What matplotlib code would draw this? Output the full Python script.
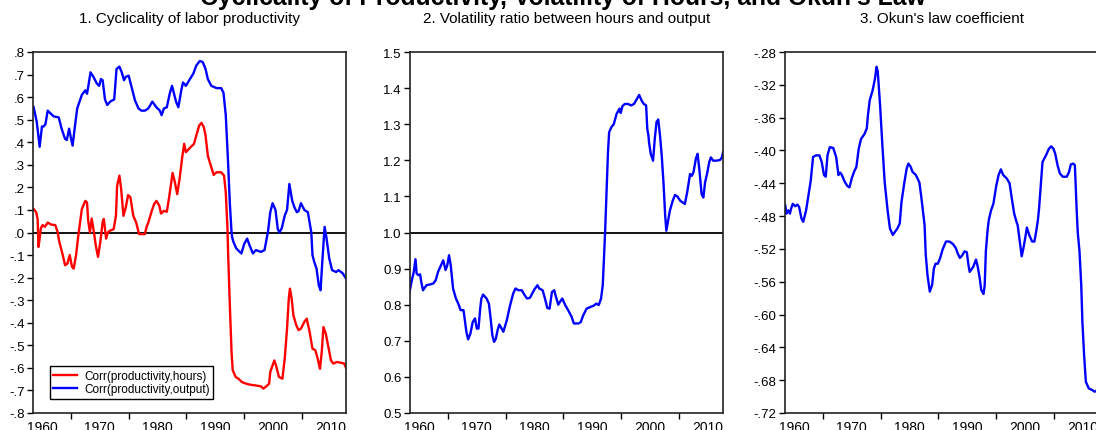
import matplotlib
matplotlib.use("Agg")
import matplotlib.pyplot as plt
from matplotlib.ticker import FixedLocator

plt.rcParams['font.family'] = ['Liberation Sans', 'DejaVu Sans']

# ---- panel 1: cyclicality of labor productivity ----
hours_year = [1958.56, 1959.0, 1959.25, 1959.4, 1959.6, 1959.8, 1960.1, 1960.5, 1961.0,
              1961.6, 1962.3, 1962.7, 1963.0, 1963.6, 1964.0, 1964.4, 1964.8, 1965.2,
              1965.5, 1965.9, 1966.3, 1966.9, 1967.5, 1967.8, 1968.0, 1968.3, 1968.6,
              1968.9, 1969.0, 1969.3, 1969.7, 1970.1, 1970.5, 1970.7, 1971.1, 1971.4,
              1971.7, 1972.4, 1972.8, 1973.0, 1973.4, 1973.7, 1974.1, 1974.5, 1974.9,
              1975.3, 1975.8, 1976.3, 1976.8, 1977.3, 1977.8, 1978.1, 1978.4, 1979.0,
              1979.4, 1979.8, 1980.3, 1980.6, 1981.1, 1981.6, 1982.0, 1982.6, 1983.0,
              1983.4, 1983.8, 1984.3, 1984.6, 1984.9, 1985.4, 1986.0, 1986.3, 1986.7,
              1987.2, 1987.6, 1988.0, 1988.3, 1988.7, 1989.3, 1989.7, 1990.2, 1991.0,
              1991.5, 1991.8, 1992.1, 1992.2, 1992.5, 1992.8, 1993.0, 1993.5, 1994.0,
              1994.6, 1995.3, 1996.1, 1997.0, 1997.9, 1998.3, 1998.8, 1999.3, 1999.5,
              1999.8, 2000.2, 2000.5, 2001.0, 2001.6, 2002.0, 2002.4, 2002.7, 2002.9,
              2003.2, 2003.5, 2004.0, 2004.4, 2004.8, 2005.4, 2005.8, 2006.3, 2006.8,
              2007.3, 2007.7, 2008.1, 2008.4, 2008.7, 2009.1, 2009.6, 2010.0, 2010.4,
              2011.0, 2011.7, 2012.3, 2012.6]
hours_corr = [0.104, 0.09, 0.06, -0.064, -0.027, 0.018, 0.033, 0.025, 0.044,
              0.035, 0.033, 0.003, -0.041, -0.10, -0.145, -0.138, -0.10, -0.152,
              -0.16, -0.10, -0.012, 0.104, 0.14, 0.133, 0.052, 0.0, 0.062,
              0.015, 0.0, -0.056, -0.108, -0.041, 0.047, 0.06, -0.027, 0.0,
              0.007, 0.015, 0.074, 0.207, 0.252, 0.193, 0.074, 0.111, 0.166,
              0.156, 0.074, 0.044, -0.007, -0.007, -0.007, 0.025, 0.044, 0.096,
              0.126, 0.14, 0.119, 0.084, 0.096, 0.092, 0.156, 0.264, 0.222,
              0.17, 0.237, 0.34, 0.393, 0.356, 0.37, 0.385, 0.393, 0.43,
              0.474, 0.486, 0.467, 0.43, 0.34, 0.289, 0.255, 0.267, 0.267,
              0.252, 0.178, 0.015, -0.086, -0.32, -0.53, -0.61, -0.64, -0.648,
              -0.663, -0.67, -0.675, -0.678, -0.682, -0.692, -0.682, -0.67, -0.618,
              -0.596, -0.567, -0.59, -0.64, -0.648, -0.559, -0.426, -0.293, -0.249,
              -0.293, -0.367, -0.411, -0.433, -0.426, -0.396, -0.382, -0.44, -0.515,
              -0.522, -0.559, -0.604, -0.53, -0.419, -0.448, -0.515, -0.567, -0.581,
              -0.574, -0.577, -0.581, -0.60]

output_year = [1958.56, 1959.1, 1959.6, 1960.0, 1960.3, 1960.6, 1961.0, 1961.4, 1962.0,
               1962.9, 1963.4, 1964.0, 1964.3, 1964.7, 1965.0, 1965.3, 1965.7, 1966.1,
               1966.9, 1967.5, 1967.8, 1968.0, 1968.4, 1968.9, 1969.5, 1969.9, 1970.2,
               1970.5, 1970.9, 1971.3, 1971.8, 1972.5, 1972.9, 1973.4, 1973.8, 1974.2,
               1974.5, 1975.0, 1975.5, 1976.1, 1976.7, 1977.2, 1977.8, 1978.4, 1979.1,
               1979.8, 1980.4, 1980.7, 1981.1, 1981.6, 1982.1, 1982.5, 1982.8, 1983.2,
               1983.6, 1984.1, 1984.4, 1984.9, 1985.6, 1986.2, 1986.7, 1987.3, 1987.8,
               1988.3, 1988.7, 1989.3, 1990.2, 1991.0, 1991.4, 1991.8, 1992.2, 1992.5,
               1992.8, 1992.9, 1993.1, 1993.6, 1994.5, 1995.0, 1995.5, 1995.9, 1996.5,
               1997.0, 1997.9, 1998.5, 1999.1, 1999.5, 1999.9, 2000.4, 2000.8, 2001.1,
               2001.5, 2002.0, 2002.4, 2002.8, 2003.3, 2003.7, 2004.1, 2004.4, 2004.8,
               2005.4, 2006.0, 2006.6, 2006.8, 2007.1, 2007.5, 2007.9, 2008.2, 2008.5,
               2008.9, 2009.2, 2009.7, 2010.2, 2010.9, 2011.3, 2012.0, 2012.6]
output_corr = [0.556, 0.49, 0.38, 0.47, 0.47, 0.48, 0.54, 0.53, 0.515,
               0.51, 0.46, 0.415, 0.41, 0.46, 0.42, 0.385, 0.47, 0.55,
               0.61, 0.63, 0.615, 0.645, 0.71, 0.69, 0.66, 0.65, 0.68,
               0.675, 0.59, 0.565, 0.58, 0.59, 0.725, 0.735, 0.71, 0.675,
               0.69, 0.695, 0.645, 0.585, 0.55, 0.54, 0.54, 0.55, 0.58,
               0.555, 0.54, 0.52, 0.55, 0.555, 0.615, 0.65, 0.62, 0.58,
               0.555, 0.63, 0.665, 0.65, 0.68, 0.705, 0.74, 0.76, 0.756,
               0.725, 0.68, 0.65, 0.64, 0.64, 0.62, 0.52, 0.31, 0.13,
               0.0, -0.02, -0.04, -0.07, -0.093, -0.05, -0.027, -0.056, -0.093,
               -0.078, -0.086, -0.078, 0.003, 0.09, 0.13, 0.10, 0.015, 0.0,
               0.02, 0.075, 0.10, 0.215, 0.14, 0.11, 0.09, 0.095, 0.13,
               0.10, 0.09, 0.0, -0.10, -0.13, -0.16, -0.235, -0.256, -0.13,
               0.025, -0.02, -0.115, -0.167, -0.175, -0.167, -0.18, -0.204]

# ---- panel 2: volatility ratio between hours and output ----
vol_year = [1958.4, 1958.7, 1959.1, 1959.4, 1959.6, 1959.9, 1960.2, 1960.4, 1960.7,
            1961.3, 1961.9, 1962.5, 1962.9, 1963.3, 1963.9, 1964.2, 1964.6, 1964.9,
            1965.2, 1965.5, 1965.9, 1966.4, 1966.8, 1967.2, 1967.7, 1967.9, 1968.2,
            1968.5, 1968.9, 1969.3, 1969.7, 1970.0, 1970.3, 1970.6, 1970.8, 1971.1,
            1971.7, 1972.1, 1972.4, 1972.7, 1973.0, 1973.3, 1973.6, 1973.9, 1974.3,
            1974.6, 1975.2, 1975.7, 1976.3, 1976.7, 1977.2, 1977.8, 1978.3, 1978.7,
            1979.2, 1979.6, 1980.0, 1980.5, 1980.8, 1981.4, 1981.8, 1982.2, 1982.6,
            1983.0, 1983.4, 1983.7, 1984.1, 1984.4, 1984.8, 1985.3, 1985.8, 1986.4,
            1986.8, 1987.6, 1988.0, 1988.4, 1989.0, 1989.7, 1990.2, 1990.7, 1991.1,
            1991.5, 1991.8, 1992.0, 1992.2, 1992.5, 1992.7, 1992.9, 1993.3, 1993.7,
            1994.2, 1994.7, 1994.9, 1995.2, 1995.6, 1996.2, 1996.7, 1997.2, 1997.7,
            1998.1, 1998.5, 1998.9, 1999.3, 1999.5, 1999.7, 1999.8, 2000.1, 2000.5,
            2000.8, 2001.1, 2001.4, 2001.7, 2002.0, 2002.3, 2002.6, 2002.8, 2003.1,
            2003.4, 2003.9, 2004.3, 2004.7, 2005.2, 2006.0, 2006.4, 2006.9, 2007.2,
            2007.5, 2007.9, 2008.2, 2008.5, 2008.9, 2009.2, 2009.5, 2009.9, 2010.2,
            2010.5, 2010.9, 2011.5, 2012.1, 2012.4, 2012.6]
vol_ratio = [0.837, 0.863, 0.891, 0.926, 0.886, 0.882, 0.884, 0.863, 0.84,
             0.854, 0.856, 0.859, 0.868, 0.891, 0.912, 0.923, 0.896, 0.909,
             0.937, 0.909, 0.845, 0.817, 0.803, 0.785, 0.785, 0.762, 0.725,
             0.704, 0.72, 0.752, 0.762, 0.734, 0.734, 0.79, 0.817, 0.828,
             0.817, 0.803, 0.762, 0.715, 0.697, 0.706, 0.729, 0.745, 0.734,
             0.725, 0.757, 0.794, 0.831, 0.845, 0.84, 0.84, 0.826, 0.817,
             0.819, 0.831, 0.843, 0.854, 0.845, 0.84, 0.817, 0.791, 0.789,
             0.835, 0.84, 0.822, 0.80, 0.808, 0.817, 0.799, 0.785, 0.767,
             0.748, 0.748, 0.752, 0.77, 0.789, 0.794, 0.797, 0.803, 0.799,
             0.817, 0.854, 0.928, 1.0, 1.13, 1.222, 1.278, 1.292, 1.30,
             1.329, 1.343, 1.331, 1.35, 1.356, 1.356, 1.352, 1.356, 1.37,
             1.381, 1.366, 1.356, 1.352, 1.287, 1.269, 1.25, 1.218, 1.199,
             1.26, 1.306, 1.313, 1.269, 1.213, 1.139, 1.046, 1.005, 1.032,
             1.06, 1.088, 1.104, 1.10, 1.088, 1.079, 1.111, 1.162, 1.157,
             1.167, 1.204, 1.218, 1.176, 1.106, 1.097, 1.139, 1.167, 1.194,
             1.208, 1.199, 1.199, 1.201, 1.208, 1.222]

# ---- panel 3: Okun's law coefficient ----
okun_year = [1958.5, 1958.7, 1959.0, 1959.3, 1959.5, 1959.8, 1960.2, 1960.6, 1960.9,
             1961.3, 1961.6, 1962.1, 1962.5, 1962.9, 1963.3, 1963.8, 1964.4, 1964.8,
             1965.2, 1965.5, 1965.8, 1966.2, 1966.8, 1967.3, 1967.7, 1968.0, 1968.3,
             1968.7, 1969.2, 1969.6, 1970.0, 1970.4, 1970.8, 1971.2, 1971.6, 1972.2,
             1972.6, 1972.8, 1973.1, 1973.6, 1974.0, 1974.3, 1974.5, 1974.9, 1975.3,
             1975.7, 1976.2, 1976.6, 1977.1, 1977.5, 1977.9, 1978.3, 1978.6, 1979.1,
             1979.5, 1979.8, 1980.2, 1980.5, 1981.1, 1981.7, 1982.0, 1982.4, 1982.6,
             1982.8, 1983.1, 1983.5, 1983.9, 1984.2, 1984.5, 1984.9, 1985.3, 1985.7,
             1986.3, 1986.9, 1987.5, 1988.0, 1988.3, 1988.7, 1989.1, 1989.5, 1989.9,
             1990.2, 1990.4, 1991.0, 1991.5, 1991.8, 1992.1, 1992.4, 1992.8, 1993.0,
             1993.2, 1993.5, 1993.7, 1994.1, 1994.5, 1995.0, 1995.4, 1995.8, 1996.2,
             1996.8, 1997.3, 1997.7, 1998.1, 1998.5, 1998.7, 1999.0, 1999.4, 1999.7,
             2000.0, 2000.3, 2000.7, 2001.2, 2001.6, 2001.9, 2002.2, 2002.4, 2002.7,
             2003.0, 2003.6, 2004.1, 2004.5, 2004.9, 2005.2, 2005.6, 2006.0, 2006.5,
             2007.2, 2007.6, 2007.9, 2008.3, 2008.6, 2008.9, 2009.1, 2009.4, 2009.7,
             2009.9, 2010.2, 2010.5, 2011.0, 2011.6, 2012.0, 2012.6]
okun_coef = [-0.467, -0.477, -0.473, -0.477, -0.471, -0.465, -0.468, -0.466, -0.469,
             -0.483, -0.487, -0.473, -0.455, -0.437, -0.408, -0.406, -0.406, -0.414,
             -0.43, -0.432, -0.406, -0.396, -0.397, -0.408, -0.43, -0.427, -0.43,
             -0.437, -0.443, -0.445, -0.434, -0.426, -0.42, -0.398, -0.386, -0.38,
             -0.373, -0.357, -0.339, -0.327, -0.313, -0.298, -0.304, -0.345, -0.394,
             -0.439, -0.473, -0.495, -0.503, -0.499, -0.495, -0.489, -0.463, -0.439,
             -0.422, -0.416, -0.42, -0.426, -0.43, -0.439, -0.455, -0.479, -0.491,
             -0.527, -0.552, -0.572, -0.564, -0.544, -0.538, -0.538, -0.531, -0.521,
             -0.511, -0.511, -0.514, -0.519, -0.525, -0.531, -0.528, -0.523, -0.524,
             -0.54, -0.548, -0.542, -0.533, -0.542, -0.554, -0.57, -0.575, -0.564,
             -0.523, -0.497, -0.485, -0.473, -0.465, -0.443, -0.43, -0.423, -0.43,
             -0.434, -0.44, -0.459, -0.477, -0.487, -0.491, -0.507, -0.529, -0.519,
             -0.507, -0.494, -0.503, -0.511, -0.511, -0.499, -0.485, -0.471, -0.443,
             -0.414, -0.406, -0.398, -0.395, -0.398, -0.404, -0.418, -0.428, -0.432,
             -0.432, -0.426, -0.417, -0.416, -0.418, -0.471, -0.50, -0.523, -0.564,
             -0.609, -0.65, -0.682, -0.69, -0.692, -0.694, -0.692]

decades = [1960, 1970, 1980, 1990, 2000, 2010]
half_decades = [1965, 1975, 1985, 1995, 2005]

p1_ticks = [0.8, 0.7, 0.6, 0.5, 0.4, 0.3, 0.2, 0.1, 0.0, -0.1, -0.2, -0.3, -0.4,
            -0.5, -0.6, -0.7, -0.8]
p1_labels = ['.8', '.7', '.6', '.5', '.4', '.3', '.2', '.1', '.0', '-.1', '-.2', '-.3',
             '-.4', '-.5', '-.6', '-.7', '-.8']
p2_ticks = [1.5, 1.4, 1.3, 1.2, 1.1, 1.0, 0.9, 0.8, 0.7, 0.6, 0.5]
p2_labels = ['1.5', '1.4', '1.3', '1.2', '1.1', '1.0', '0.9', '0.8', '0.7', '0.6', '0.5']
p3_ticks = [-0.28, -0.32, -0.36, -0.40, -0.44, -0.48, -0.52, -0.56, -0.60, -0.64,
            -0.68, -0.72]
p3_labels = ['-.28', '-.32', '-.36', '-.40', '-.44', '-.48', '-.52', '-.56', '-.60',
             '-.64', '-.68', '-.72']

W, H = 1096, 431
fig = plt.figure(figsize=(W / 100, H / 100), dpi=100)


def make_axes(x0, x1, y0=53, y1=414):
    return fig.add_axes([x0 / W, (H - y1) / H, (x1 - x0) / W, (y1 - y0) / H])


def style(ax, ticks, labels, ylim, title):
    ax.set_xlim(1958.45, 2012.6)
    ax.set_ylim(*ylim)
    ax.set_yticks(ticks)
    ax.set_yticklabels(labels)
    ax.set_xticks(decades)
    ax.set_xticklabels([str(d) for d in decades])
    ax.xaxis.set_minor_locator(FixedLocator(half_decades))
    ax.tick_params(axis='x', which='major', length=0, pad=5, labelsize=10)
    ax.tick_params(axis='x', which='minor', length=4, width=1, direction='out')
    ax.tick_params(axis='y', length=4, width=1, direction='out', pad=2, labelsize=9.5)
    for s in ax.spines.values():
        s.set_linewidth(1.2)
        s.set_color('#222222')
    ax.set_title(title, fontsize=11, pad=21.5)


ax1 = make_axes(33, 346)
ax1.axhline(0, color='black', lw=1.3)
ax1.plot(hours_year, hours_corr, color='#ff0000', lw=1.7, label='Corr(productivity,hours)')
ax1.plot(output_year, output_corr, color='#0000ff', lw=1.7, label='Corr(productivity,output)')
style(ax1, p1_ticks, p1_labels, (-0.8, 0.8), '1. Cyclicality of labor productivity')
leg = ax1.legend(loc='lower left', bbox_to_anchor=(0.054, 0.04), fontsize=8.5,
                 frameon=True, fancybox=False, edgecolor='black', framealpha=1,
                 handlelength=2.0, borderpad=0.3, labelspacing=0.1, handletextpad=0.6,
                 borderaxespad=0)
leg.get_frame().set_linewidth(1.0)

ax2 = make_axes(410, 723)
ax2.axhline(1.0, color='black', lw=1.3)
ax2.plot(vol_year, vol_ratio, color='#0000ff', lw=1.7)
style(ax2, p2_ticks, p2_labels, (0.5, 1.5), '2. Volatility ratio between hours and output')

ax3 = make_axes(785, 1098)
ax3.plot(okun_year, okun_coef, color='#0000ff', lw=1.7)
style(ax3, p3_ticks, p3_labels, (-0.72, -0.28), "3. Okun's law coefficient")

fig.text(563 / W, (H - 5) / H, "Cyclicality of Productivity, Volatility of Hours, and Okun's Law",
         ha='center', va='baseline', fontsize=17.8, fontweight='bold')

fig.savefig('out.png', dpi=100)
